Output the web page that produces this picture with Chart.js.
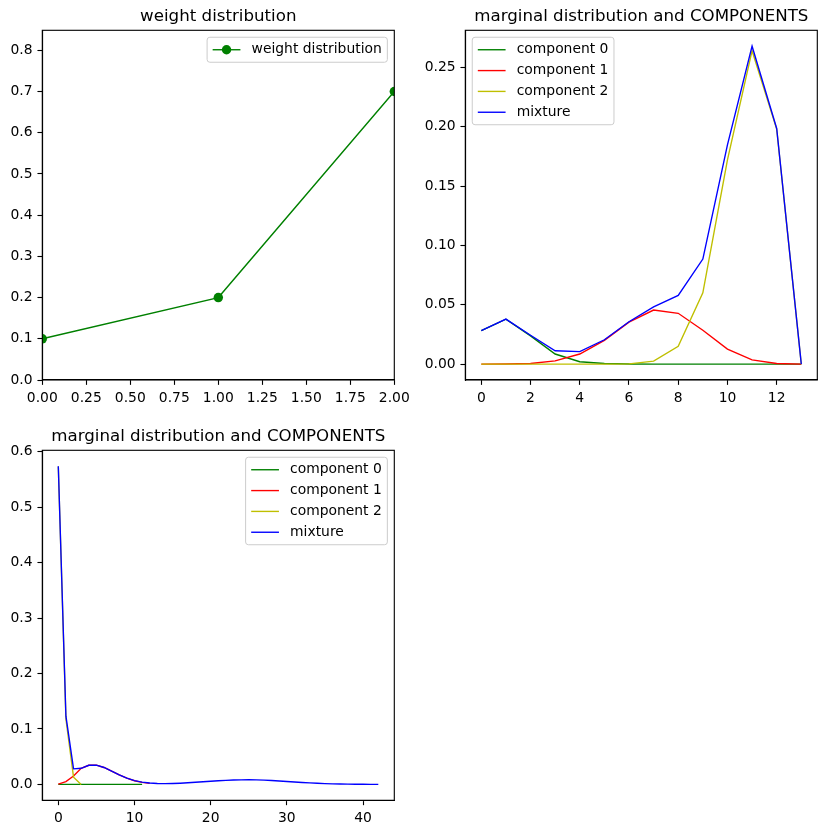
<!DOCTYPE html>
<html><head><meta charset="utf-8">
<script src="https://cdn.jsdelivr.net/npm/chart.js@4.4.1/dist/chart.umd.min.js"></script>
<style>
html,body{margin:0;padding:0;background:#fff;}
#fig{position:relative;width:826px;height:834px;background:#fff;overflow:hidden;}
canvas{position:absolute;}
</style></head><body>
<div id="fig">
<canvas id="c1" width="413" height="417" style="left:0;top:0"></canvas>
<canvas id="c2" width="413" height="417" style="left:413px;top:0"></canvas>
<canvas id="c3" width="413" height="417" style="left:0;top:417px"></canvas>
</div>
<script>
// ---------- data ----------
const weightX = [0, 1, 2];
const weightY = [0.1, 0.2, 0.7];
const weightXTicks = [0, 0.25, 0.5, 0.75, 1.0, 1.25, 1.5, 1.75, 2.0];
const weightYTicks = [0, 0.1, 0.2, 0.3, 0.4, 0.5, 0.6, 0.7, 0.8];

const marg1Comp0 = [0.0283, 0.0378, 0.0238, 0.0085, 0.0020, 0.0005, 0.0001, 0, 0, 0, 0, 0, 0, 0];
const marg1Comp1 = [0, 0.0001, 0.0005, 0.0027, 0.0085, 0.0200, 0.0354, 0.0455, 0.0428, 0.0285, 0.0127, 0.0035, 0.0005, 0];
const marg1Comp2 = [0, 0, 0, 0, 0, 0, 0.0002, 0.0025, 0.0150, 0.0600, 0.1720, 0.2640, 0.1980, 0];
const marg1Mixture = [0.0283, 0.0379, 0.0243, 0.0112, 0.0105, 0.0205, 0.0357, 0.0482, 0.0578, 0.0885, 0.1847, 0.2678, 0.1985, 0];
const marg1XTicks = [0, 2, 4, 6, 8, 10, 12];
const marg1YTicks = [0, 0.05, 0.10, 0.15, 0.20, 0.25];

const marg2Comp0 = [0, 0, 0, 0, 0, 0, 0, 0, 0, 0, 0, 0];
const marg2Comp1 = [0.0005, 0.0050, 0.0150, 0.0290, 0.0345, 0.0348, 0.0305, 0.0240, 0.0172, 0.0112, 0.0066, 0.0036, 0.0018];
const marg2Comp2 = [0.5735, 0.1180, 0.0130, 0];
const marg2Mixture = [0.5740, 0.1230, 0.0280, 0.0290, 0.0345, 0.0348, 0.0305, 0.0240, 0.0172, 0.0112,
  0.0068, 0.0040, 0.0024, 0.0016, 0.0014, 0.0016, 0.0021, 0.0029, 0.0038, 0.0048,
  0.0057, 0.0066, 0.0073, 0.0079, 0.0082, 0.0083, 0.0081, 0.0077, 0.0070, 0.0062,
  0.0053, 0.0044, 0.0035, 0.0027, 0.0020, 0.0014, 0.0010, 0.0007, 0.0004, 0.0003,
  0.0002, 0.0001, 0.0001];
const marg2XTicks = [0, 10, 20, 30, 40];
const marg2YTicks = [0, 0.1, 0.2, 0.3, 0.4, 0.5, 0.6];

const compLabels = ['component 0', 'component 1', 'component 2', 'mixture'];
const compColors = ['#008000', '#ff0000', '#bfbf00', '#0000ff'];

// ---------- helpers ----------
const FONT = '"DejaVu Sans", "Liberation Sans", sans-serif';
const PT = 100 / 72;
const pts = ys => ys.map((y, i) => ({x: i, y: y}));

const mplDecor = {
  id: 'mplDecor',
  afterDatasetsDraw(chart, args, opts) {
    const ctx = chart.ctx, a = chart.chartArea;
    ctx.save();
    ctx.strokeStyle = '#000';
    ctx.lineWidth = 0.8 * PT;
    ctx.strokeRect(a.left, a.top, a.right - a.left, a.bottom - a.top);
    const fs = 10 * PT;
    ctx.font = fs + 'px ' + FONT;
    const items = chart.data.datasets;
    const bp = 0.4 * fs, hl = 2 * fs, tp = 0.8 * fs, ls = 0.5 * fs, ap = 0.5 * fs, rowH = fs;
    const tw = Math.max(...items.map(d => ctx.measureText(d.label).width));
    const w = bp * 2 + hl + tp + tw;
    const h = bp * 2 + items.length * rowH + (items.length - 1) * ls;
    const x0 = opts.loc === 'upper left' ? a.left + ap : a.right - ap - w;
    const y0 = a.top + ap;
    const r = 0.2 * fs;
    ctx.beginPath();
    ctx.moveTo(x0 + r, y0);
    ctx.lineTo(x0 + w - r, y0); ctx.quadraticCurveTo(x0 + w, y0, x0 + w, y0 + r);
    ctx.lineTo(x0 + w, y0 + h - r); ctx.quadraticCurveTo(x0 + w, y0 + h, x0 + w - r, y0 + h);
    ctx.lineTo(x0 + r, y0 + h); ctx.quadraticCurveTo(x0, y0 + h, x0, y0 + h - r);
    ctx.lineTo(x0, y0 + r); ctx.quadraticCurveTo(x0, y0, x0 + r, y0);
    ctx.closePath();
    ctx.fillStyle = 'rgba(255,255,255,0.8)';
    ctx.fill();
    ctx.strokeStyle = '#cccccc';
    ctx.lineWidth = 1;
    ctx.stroke();
    items.forEach((d, i) => {
      const cy = y0 + bp + rowH / 2 + i * (rowH + ls);
      const hx = x0 + bp;
      ctx.strokeStyle = d.borderColor;
      ctx.lineWidth = d.borderWidth;
      ctx.beginPath(); ctx.moveTo(hx, cy); ctx.lineTo(hx + hl, cy); ctx.stroke();
      if (d.pointRadius > 0) {
        ctx.fillStyle = d.borderColor;
        ctx.beginPath(); ctx.arc(hx + hl / 2, cy, d.pointRadius, 0, Math.PI * 2); ctx.fill();
      }
      ctx.fillStyle = '#000';
      ctx.textBaseline = 'middle';
      ctx.textAlign = 'left';
      ctx.fillText(d.label, hx + hl + tp, cy);
    });
    ctx.restore();
  }
};

function makeChart(id, c) {
  const W = 413, H = 417;
  const tickFont = {family: FONT, size: 10 * PT};
  const lh = 16.67 * 1.2;
  const axis = (s, fitFn) => ({
    type: 'linear', min: s.min, max: s.max,
    afterBuildTicks: sc => { sc.ticks = s.ticks.map(v => ({value: v})); },
    afterFit: fitFn,
    ticks: {callback: v => Number(v).toFixed(s.dec), color: '#000', font: tickFont,
      padding: 3.5 * PT, maxRotation: 0, autoSkip: false, includeBounds: false},
    grid: {display: true, drawOnChartArea: false, drawTicks: true, tickLength: 3.5 * PT,
      tickWidth: 0.8 * PT, tickColor: '#000'},
    border: {display: true, color: '#000', width: 0.8 * PT}
  });
  return new Chart(document.getElementById(id), {
    type: 'line',
    data: {datasets: c.datasets},
    options: {
      responsive: false, animation: false, devicePixelRatio: 1,
      events: [],
      layout: {autoPadding: false, padding: {left: 0, right: W - c.area.right, top: 0, bottom: 0}},
      plugins: {
        legend: {display: false}, tooltip: {enabled: false},
        title: {display: true, text: c.title, fullSize: false, color: '#000',
          font: {family: FONT, size: 16.67, weight: 'normal', lineHeight: 1.2},
          padding: {top: c.titleY - lh / 2, bottom: c.area.top - c.titleY - lh / 2}},
        mplDecor: {loc: c.legendLoc}
      },
      scales: {
        x: Object.assign(axis(c.x, sc => { sc.height = H - c.area.bottom; sc.paddingLeft = 0; sc.paddingRight = 0; }), {position: 'bottom'}),
        y: Object.assign(axis(c.y, sc => { sc.width = c.area.left; sc.paddingTop = 0; sc.paddingBottom = 0; }), {position: 'left'})
      }
    },
    plugins: [mplDecor]
  });
}

function compSets(series) {
  return series.map((ys, i) => ({
    label: compLabels[i], data: pts(ys), borderColor: compColors[i], backgroundColor: compColors[i],
    borderWidth: 1 * PT, pointRadius: 0, tension: 0, fill: false, clip: 0, order: 4 - i
  }));
}

makeChart('c1', {
  title: 'weight distribution', titleY: 16.7,
  area: {left: 42.3, right: 394.3, top: 30.3, bottom: 380},
  x: {min: 0, max: 2, ticks: weightXTicks, dec: 2},
  y: {min: 0, max: 0.8485, ticks: weightYTicks, dec: 1},
  legendLoc: 'upper right',
  datasets: [{
    label: 'weight distribution', data: weightX.map((x, i) => ({x: x, y: weightY[i]})),
    borderColor: '#008000', backgroundColor: '#008000', borderWidth: 1 * PT,
    pointRadius: 3.4 * PT, pointBorderWidth: 0, pointBackgroundColor: '#008000',
    tension: 0, fill: false, clip: 0
  }]
});

makeChart('c2', {
  title: 'marginal distribution and COMPONENTS', titleY: 16.7,
  area: {left: 52.3, right: 404.3, top: 30.3, bottom: 380},
  x: {min: -0.65, max: 13.65, ticks: marg1XTicks, dec: 0},
  y: {min: -0.01339, max: 0.28118, ticks: marg1YTicks, dec: 2},
  legendLoc: 'upper left',
  datasets: compSets([marg1Comp0, marg1Comp1, marg1Comp2, marg1Mixture])
});

makeChart('c3', {
  title: 'marginal distribution and COMPONENTS', titleY: 19.3,
  area: {left: 42.3, right: 394.3, top: 33.3, bottom: 383.3},
  x: {min: -2.1, max: 44.1, ticks: marg2XTicks, dec: 0},
  y: {min: -0.0287, max: 0.6027, ticks: marg2YTicks, dec: 1},
  legendLoc: 'upper right',
  datasets: compSets([marg2Comp0, marg2Comp1, marg2Comp2, marg2Mixture])
});
</script>
</body></html>
